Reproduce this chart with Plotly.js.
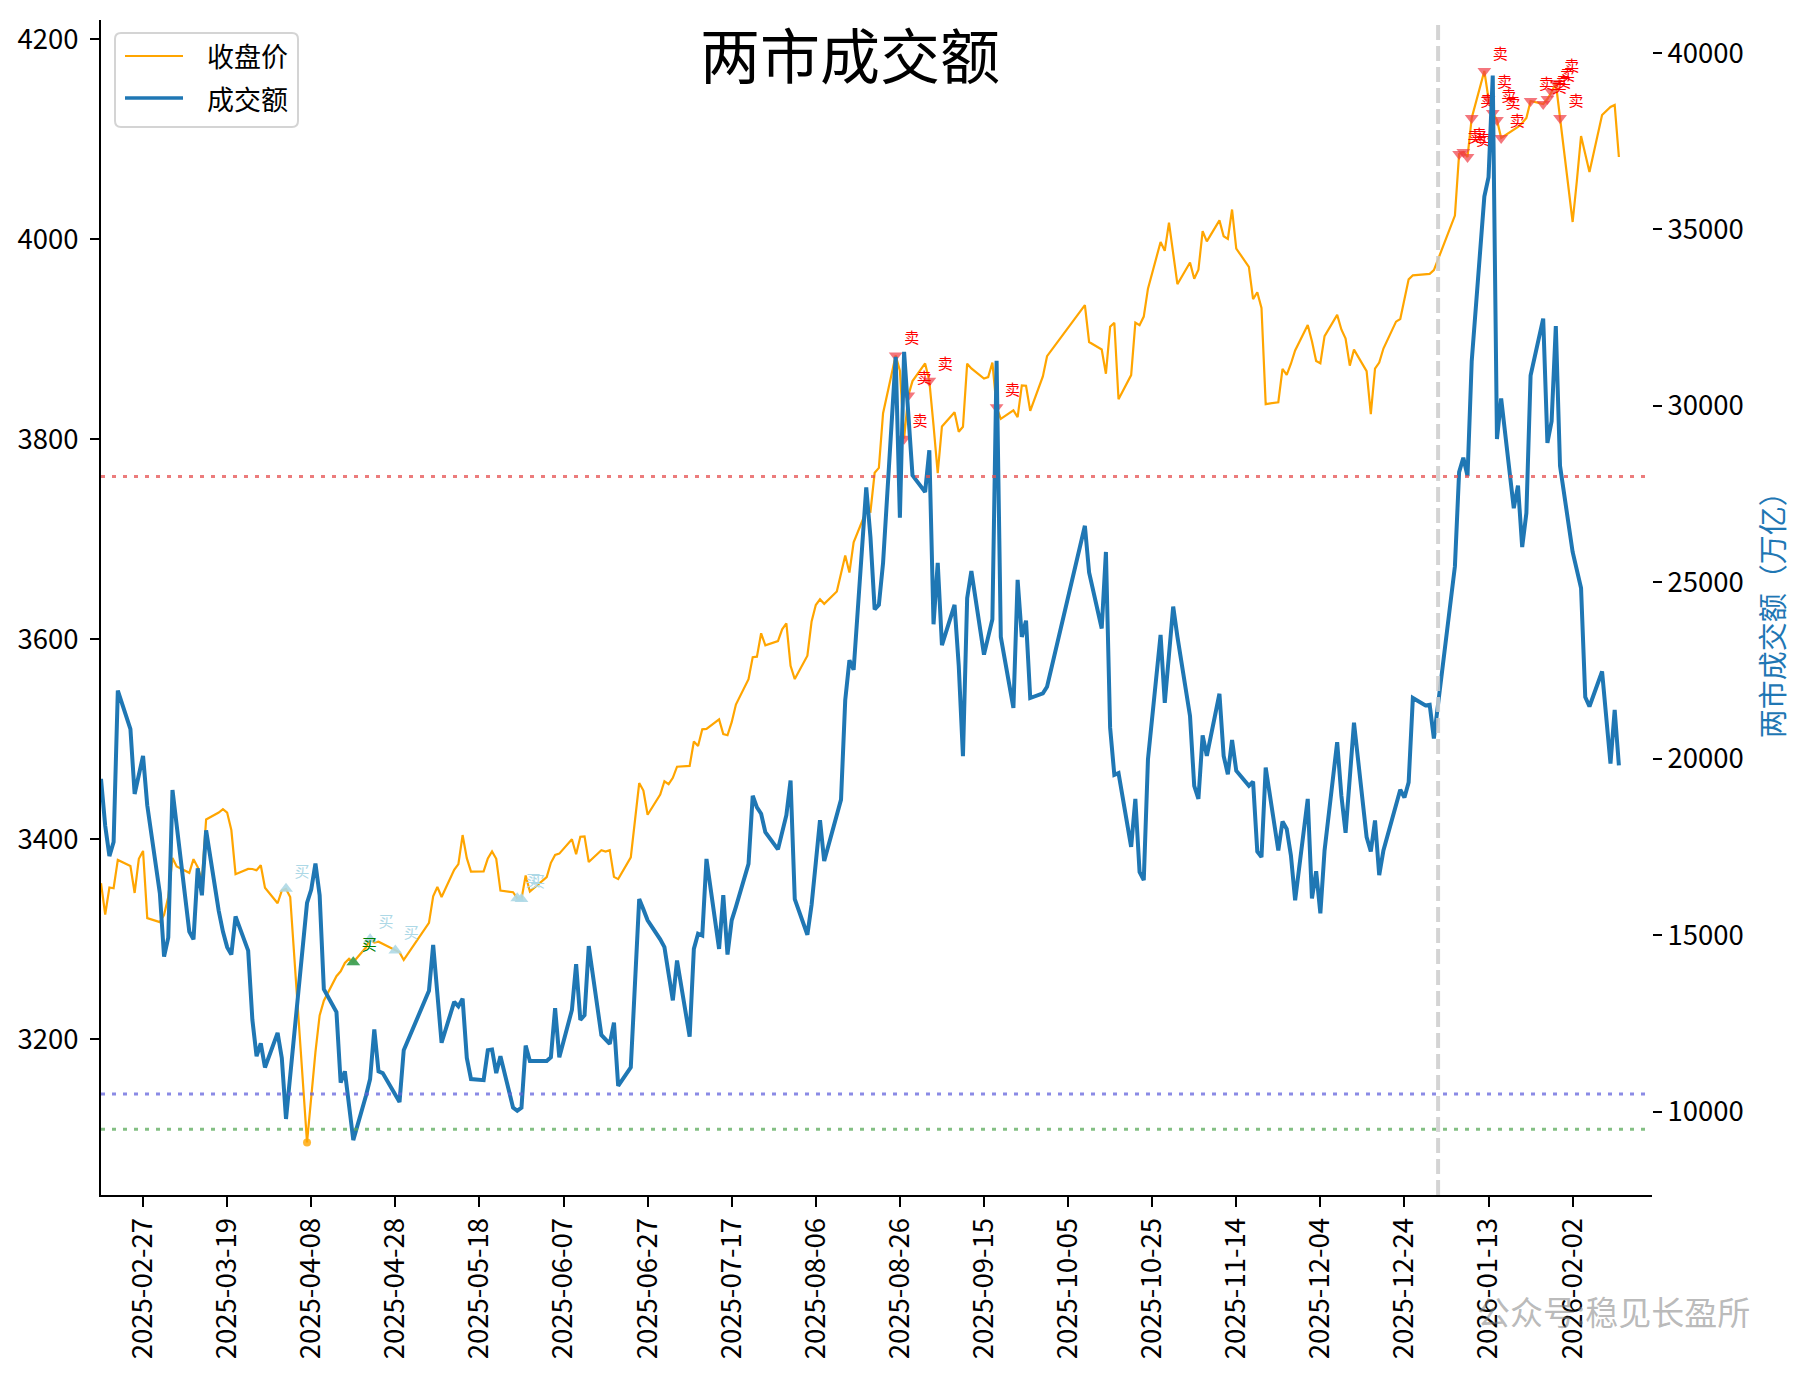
<!DOCTYPE html>
<html><head><meta charset="utf-8">
<script src="https://cdn.plot.ly/plotly-3.0.1.min.js"></script>
<style>html,body{margin:0;padding:0;background:#fff}#chart{width:1805px;height:1376px}</style>
</head><body><div id="chart"></div>
<script>
const dates = [
"2025-02-17","2025-02-18","2025-02-19","2025-02-20","2025-02-21","2025-02-24","2025-02-25","2025-02-26","2025-02-27","2025-02-28",
"2025-03-03","2025-03-04","2025-03-05","2025-03-06","2025-03-07","2025-03-10","2025-03-11","2025-03-12","2025-03-13","2025-03-14","2025-03-17","2025-03-18","2025-03-19","2025-03-20","2025-03-21","2025-03-24","2025-03-25","2025-03-26","2025-03-27","2025-03-28","2025-03-31",
"2025-04-01","2025-04-02","2025-04-03","2025-04-07","2025-04-08","2025-04-09","2025-04-10","2025-04-11","2025-04-14","2025-04-15","2025-04-16","2025-04-17","2025-04-18","2025-04-21","2025-04-22","2025-04-23","2025-04-24","2025-04-25","2025-04-28","2025-04-29","2025-04-30",
"2025-05-06","2025-05-07","2025-05-08","2025-05-09","2025-05-12","2025-05-13","2025-05-14","2025-05-15","2025-05-16","2025-05-19","2025-05-20","2025-05-21","2025-05-22","2025-05-23","2025-05-26","2025-05-27","2025-05-28","2025-05-29","2025-05-30",
"2025-06-03","2025-06-04","2025-06-05","2025-06-06","2025-06-09","2025-06-10","2025-06-11","2025-06-12","2025-06-13","2025-06-16","2025-06-17","2025-06-18","2025-06-19","2025-06-20","2025-06-23","2025-06-24","2025-06-25","2025-06-26","2025-06-27","2025-06-30",
"2025-07-01","2025-07-02","2025-07-03","2025-07-04","2025-07-07","2025-07-08","2025-07-09","2025-07-10","2025-07-11","2025-07-14","2025-07-15","2025-07-16","2025-07-17","2025-07-18","2025-07-21","2025-07-22","2025-07-23","2025-07-24","2025-07-25","2025-07-28","2025-07-29","2025-07-30","2025-07-31",
"2025-08-01","2025-08-04","2025-08-05","2025-08-06","2025-08-07","2025-08-08","2025-08-11","2025-08-12","2025-08-13","2025-08-14","2025-08-15","2025-08-18","2025-08-19","2025-08-20","2025-08-21","2025-08-22","2025-08-25","2025-08-26","2025-08-27","2025-08-28","2025-08-29",
"2025-09-01","2025-09-02","2025-09-03","2025-09-04","2025-09-05","2025-09-08","2025-09-09","2025-09-10","2025-09-11","2025-09-12","2025-09-15","2025-09-16","2025-09-17","2025-09-18","2025-09-19","2025-09-22","2025-09-23","2025-09-24","2025-09-25","2025-09-26","2025-09-29","2025-09-30",
"2025-10-09","2025-10-10","2025-10-13","2025-10-14","2025-10-15","2025-10-16","2025-10-17","2025-10-20","2025-10-21","2025-10-22","2025-10-23","2025-10-24","2025-10-27","2025-10-28","2025-10-29","2025-10-30","2025-10-31",
"2025-11-03","2025-11-04","2025-11-05","2025-11-06","2025-11-07","2025-11-10","2025-11-11","2025-11-12","2025-11-13","2025-11-14","2025-11-17","2025-11-18","2025-11-19","2025-11-20","2025-11-21","2025-11-24","2025-11-25","2025-11-26","2025-11-27","2025-11-28",
"2025-12-01","2025-12-02","2025-12-03","2025-12-04","2025-12-05","2025-12-08","2025-12-09","2025-12-10","2025-12-11","2025-12-12","2025-12-15","2025-12-16","2025-12-17","2025-12-18","2025-12-19","2025-12-22","2025-12-23","2025-12-24","2025-12-25","2025-12-26","2025-12-29","2025-12-30","2025-12-31",
"2026-01-05","2026-01-06","2026-01-07","2026-01-08","2026-01-09","2026-01-12","2026-01-13","2026-01-14","2026-01-15","2026-01-16","2026-01-19","2026-01-20","2026-01-21","2026-01-22","2026-01-23","2026-01-26","2026-01-27","2026-01-28","2026-01-29","2026-01-30",
"2026-02-02","2026-02-03","2026-02-04","2026-02-05","2026-02-06","2026-02-09","2026-02-10","2026-02-11","2026-02-12","2026-02-13"
];
const closePrice = [
3355.83,3324.49,3351.54,3350.78,3379.11,3373.03,3346.04,3380.21,3388.06,3320.90,
3316.93,3324.21,3341.96,3381.10,3372.55,3366.16,3379.83,3371.92,3358.73,3419.56,3426.43,3429.76,3426.43,3408.95,3364.83,3370.03,3369.98,3368.70,3373.75,3351.31,3335.75,
3348.44,3350.13,3342.01,3096.58,3145.55,3186.81,3223.64,3238.23,3262.81,3267.66,3276.00,3280.34,3276.73,3291.43,3299.76,3296.36,3297.29,3295.06,3288.41,3286.65,3279.03,
3316.11,3342.67,3352.00,3342.00,3369.24,3374.87,3403.95,3380.82,3367.46,3367.58,3380.48,3387.57,3380.19,3348.37,3346.84,3340.69,3339.93,3363.45,3347.49,
3361.98,3376.20,3384.10,3385.36,3399.77,3384.82,3402.32,3402.66,3377.00,3388.73,3387.40,3388.81,3362.11,3359.90,3381.58,3420.57,3455.97,3448.45,3424.23,3444.43,
3457.75,3454.79,3461.15,3472.32,3473.13,3497.48,3493.05,3509.68,3510.18,3519.65,3505.00,3503.78,3516.83,3534.48,3559.79,3581.86,3582.30,3605.73,3593.66,3597.94,3609.71,3615.72,3573.21,
3559.95,3583.31,3617.60,3633.99,3639.67,3635.13,3647.55,3665.92,3683.46,3666.44,3696.77,3728.03,3727.29,3766.21,3771.10,3825.76,3883.56,3868.38,3800.35,3843.60,3857.93,
3875.53,3858.13,3813.56,3765.88,3812.51,3826.84,3807.29,3812.22,3875.31,3870.60,3860.50,3861.87,3876.34,3831.66,3820.09,3828.58,3821.83,3853.64,3853.30,3828.11,3862.53,3882.78,
3933.97,3897.03,3889.50,3865.23,3912.21,3916.23,3839.76,3863.89,3916.33,3913.76,3922.41,3950.31,3996.94,3988.22,4016.33,3986.90,3954.79,
3976.52,3960.19,3969.25,4007.76,3997.56,4018.60,4002.76,4000.14,4029.50,3990.49,3972.03,3939.81,3946.74,3931.05,3834.89,3836.77,3870.02,3864.18,3875.26,3888.60,
3914.01,3897.71,3878.00,3875.79,3902.81,3924.08,3909.52,3900.50,3873.32,3889.35,3867.92,3824.81,3870.28,3876.37,3890.45,3917.36,3919.98,3940.95,3959.62,3963.68,3965.28,3965.12,3968.84,
4023.4,4085.0,4087.0,4082.0,4121.0,4168.0,4140.0,4126.0,4119.0,4101.0,4109.0,4112.0,4116.0,4121.0,4138.0,4135.0,4140.0,4147.0,4156.0,4121.0,
4017.0,4058.0,4103.0,4085.0,4067.0,4124.0,4128.0,4132.0,4134.0,4082.0
];
const turnover = [
19430,18100,17240,17640,21930,20840,19000,19500,20080,18680,
16180,14390,14930,19110,18050,15100,14880,16890,16130,17970,15690,15100,14660,14450,15530,14560,12600,11570,11930,11250,12230,
11520,9790,11030,15910,16290,17030,16130,13470,12820,10820,11140,10170,9190,10440,10920,12330,11140,11090,10490,10270,11740,
13420,14720,13360,11950,13110,12980,13200,11520,10920,10890,11740,11760,11090,11570,10110,10020,10110,11870,11430,
11430,11540,12930,11540,12880,14180,12600,12730,14690,12170,12060,11920,12520,10730,11250,13620,16020,15730,15420,14880,
14660,13900,13150,14280,12120,14610,15040,14990,17160,14610,16130,14450,15420,15800,17020,18950,18620,18440,17920,17430,17920,18400,19380,
16020,15010,15860,17050,18260,17100,18350,18840,21660,22790,22520,27690,26280,24230,24360,25550,31390,26830,31530,29800,28030,
27560,28740,23810,25550,23220,24360,22630,20070,24550,25320,22950,23450,23950,31280,23450,21440,25070,23450,23910,21720,21850,22040,
26600,25280,23690,25860,20880,19540,19590,17500,18860,16790,16560,19980,23510,21580,22900,24310,23460,
21210,19230,18860,20660,20080,21840,20080,19560,20530,19660,19230,19350,17370,17210,19750,17400,18220,18010,17260,15990,
18860,16040,16810,15620,17400,20470,18950,17900,19610,21020,17780,17370,18250,16700,17400,18620,19120,18900,19330,21720,21510,21530,20570,
25450,28120,28530,28010,31270,35930,36480,39360,29060,30210,27100,27740,26000,26960,30860,32470,28950,29560,32260,28300,
25860,25380,24840,21750,21480,22470,21100,19860,21380,19810
];
const sellDates = ["2025-08-25","2025-08-27","2025-08-28","2025-09-02","2025-09-18",
"2026-01-06","2026-01-07","2026-01-08","2026-01-09","2026-01-12","2026-01-13","2026-01-14","2026-01-15","2026-01-16",
"2026-01-23","2026-01-26","2026-01-27","2026-01-28","2026-01-29","2026-01-30"];
const buyDates = ["2025-04-02","2025-04-18","2025-04-22","2025-04-28","2025-05-27","2025-05-28"];
const strongBuyDates = ["2025-04-18"];
const lowDates = ["2025-04-07"];
const thresholdHigh = 28000, thresholdMid = 10500, thresholdLow = 9500;
const yearMark = "2026-01-01";
const xTickDates = ["2025-02-27","2025-03-19","2025-04-08","2025-04-28","2025-05-18","2025-06-07","2025-06-27","2025-07-17","2025-08-06","2025-08-26","2025-09-15","2025-10-05","2025-10-25","2025-11-14","2025-12-04","2025-12-24","2026-01-13","2026-02-02"];
const leftTicks = [3200,3400,3600,3800,4000,4200];
const rightTicks = [10000,15000,20000,25000,30000,35000,40000];
const seriesNames = ['收盘价','成交额'];
const seriesColors = ['#FFA500','#1f77b4'];
const seriesWidths = [2.2, 4];

const FONT = "Noto Sans CJK SC, Noto Sans, sans-serif";
const closeAt = d => closePrice[dates.indexOf(d)];

const traces = [
  {x:dates, y:closePrice, type:'scatter', mode:'lines', name:seriesNames[0], yaxis:'y', showlegend:false,
   line:{color:seriesColors[0], width:seriesWidths[0]}},
  {x:lowDates, y:lowDates.map(closeAt), type:'scatter', mode:'markers', yaxis:'y', showlegend:false,
   marker:{symbol:'circle', size:8, color:'rgba(255,165,0,0.8)'}},
  {x:buyDates, y:buyDates.map(closeAt), type:'scatter', mode:'markers+text', yaxis:'y', showlegend:false,
   text:buyDates.map(()=> '买'), textposition:'top right', textfont:{family:FONT, size:15, color:'lightblue'},
   marker:{symbol:'triangle-up', size:12, color:'rgba(173,216,230,0.9)'}},
  {x:strongBuyDates, y:strongBuyDates.map(closeAt), type:'scatter', mode:'markers+text', yaxis:'y', showlegend:false,
   text:strongBuyDates.map(()=> '买'), textposition:'top right', textfont:{family:FONT, size:15, color:'green'},
   marker:{symbol:'triangle-up', size:12, color:'rgba(0,128,0,0.6)'}},
  {x:sellDates, y:sellDates.map(closeAt), type:'scatter', mode:'markers+text', yaxis:'y', showlegend:false,
   text:sellDates.map(()=> '卖'), textposition:'top right', textfont:{family:FONT, size:15, color:'red'},
   marker:{symbol:'triangle-down', size:12, color:'rgba(240,60,70,0.7)'}},
  {x:dates, y:turnover, type:'scatter', mode:'lines', name:seriesNames[1], yaxis:'y2', showlegend:false,
   line:{color:seriesColors[1], width:seriesWidths[1]}}
];

function hline(v, color){
  return {type:'line', xref:'paper', x0:0, x1:1, yref:'y2', y0:v, y1:v, layer:'above',
          line:{color:color, width:3, dash:'4px,7px'}};
}

// custom legend box (paper coordinates of plot area 1551 x 1175 px)
const PW = 1551, PH = 1175, L0 = 101, T0 = 20;
const px = v => (v - L0) / PW;
const py = v => 1 - (v - T0) / PH;
function roundRect(x0p, y0p, x1p, y1p, r){
  const X0 = px(x0p), X1 = px(x1p), YT = py(y0p), YB = py(y1p), rx = r / PW, ry = r / PH;
  return `M${X0+rx},${YT} L${X1-rx},${YT} Q${X1},${YT} ${X1},${YT-ry} L${X1},${YB+ry} Q${X1},${YB} ${X1-rx},${YB} ` +
         `L${X0+rx},${YB} Q${X0},${YB} ${X0},${YB+ry} L${X0},${YT-ry} Q${X0},${YT} ${X0+rx},${YT} Z`;
}
const legendRows = [56, 98];
const legendShapes = [
  {type:'path', xref:'paper', yref:'paper', path:roundRect(115, 33, 298, 127, 6), layer:'above',
   fillcolor:'rgba(255,255,255,0.85)', line:{color:'#d4d4d4', width:2}}
].concat(seriesNames.map((n,i)=>({type:'line', xref:'paper', yref:'paper', x0:px(125), x1:px(183),
   y0:py(legendRows[i]), y1:py(legendRows[i]), layer:'above', line:{color:seriesColors[i], width:seriesWidths[i]*0.85}})));
const legendTexts = seriesNames.map((n,i)=>({text:n, xref:'paper', yref:'paper', x:px(205), y:py(legendRows[i]),
   xanchor:'left', yanchor:'middle', showarrow:false, font:{family:FONT, size:27, color:'black'}}));

const layout = {
  width:1805, height:1376,
  margin:{l:101, r:153, t:20, b:181, pad:0},
  paper_bgcolor:'white', plot_bgcolor:'white',
  font:{family:FONT, size:27, color:'black'},
  showlegend:false,
  xaxis:{type:'date', range:['2025-02-17','2026-02-20 21:00'], tickmode:'array', tickvals:xTickDates, ticktext:xTickDates,
         tickangle:-90, ticks:'outside', ticklen:10, tickwidth:2, tickcolor:'black',
         showline:true, linecolor:'black', linewidth:2, showgrid:false, zeroline:false, tickfont:{size:27.5}},
  yaxis:{range:[3044,4219], tickmode:'array', tickvals:leftTicks, ticktext:leftTicks.map(String),
         ticks:'outside', ticklen:9, tickwidth:2, tickcolor:'black', ticklabelstandoff:6,
         showline:true, linecolor:'black', linewidth:2, showgrid:false, zeroline:false, tickfont:{size:27.5}},
  yaxis2:{overlaying:'y', side:'right', range:[7635,40935], tickmode:'array', tickvals:rightTicks, ticktext:rightTicks.map(String),
          ticks:'outside', ticklen:9, tickwidth:2, tickcolor:'black',
          showline:false, showgrid:false, zeroline:false, tickfont:{size:27.5}},
  shapes:[
    hline(thresholdHigh, 'rgba(230,80,80,0.75)'),
    hline(thresholdMid, 'rgba(100,100,220,0.75)'),
    hline(thresholdLow, 'rgba(90,170,90,0.75)'),
    {type:'line', xref:'x', x0:yearMark, x1:yearMark, yref:'paper', y0:0, y1:1, layer:'above',
     line:{color:'rgba(205,205,205,0.85)', width:4, dash:'15px,6px'}}
  ].concat(legendShapes),
  annotations:[
    {text:'两市成交额', xref:'paper', yref:'paper', x:0.483, y:0.9724, xanchor:'center', yanchor:'middle',
     showarrow:false, font:{family:FONT, size:60, color:'black'}},
    {text:'两市成交额（万亿）', xref:'paper', yref:'paper', x:1.0766, y:0.5, xanchor:'center', yanchor:'middle',
     textangle:-90, showarrow:false, font:{family:FONT, size:29, color:'#1f77b4'}},
    {text:'公众号:稳见长盈所', xref:'paper', yref:'paper', x:0.975, y:-0.099, xanchor:'center', yanchor:'middle',
     showarrow:false, font:{family:FONT, size:33, color:'rgba(128,128,128,0.55)'}}
  ].concat(legendTexts)
};

Plotly.newPlot('chart', traces, layout, {displayModeBar:false, staticPlot:true});
</script>
</body></html>
